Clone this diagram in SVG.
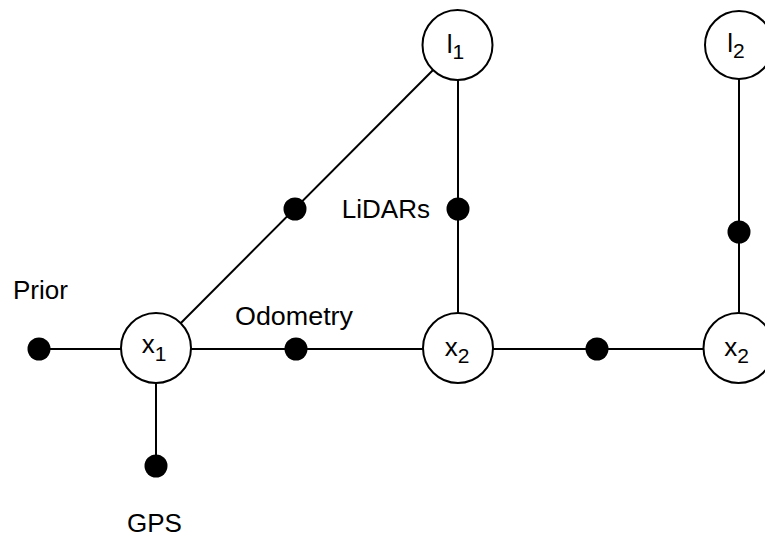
<svg xmlns="http://www.w3.org/2000/svg" width="765" height="537" viewBox="0 0 765 537">
  <style>
    .edge { stroke: #000; stroke-width: 2; fill: none; }
    .var { fill: #fff; stroke: #000; stroke-width: 2; }
    .factor { fill: #000; }
    .lbl { font-family: "Liberation Sans", Arial, sans-serif; font-size: 26px; fill: #000; }
    .nlbl { font-family: "Liberation Sans", Arial, sans-serif; font-size: 26px; fill: #000; text-anchor: middle; }
    .sub { font-size: 21px; }
  </style>
  <rect width="765" height="537" fill="#fff"/>

  <!-- connectors between variables and factors -->
  <g id="connectors">
    <line class="edge" x1="39" y1="349" x2="156" y2="349"/>
    <line class="edge" x1="156" y1="349" x2="156" y2="466"/>
    <line class="edge" x1="156" y1="348" x2="458" y2="45"/>
    <line class="edge" x1="458" y1="45" x2="458" y2="348"/>
    <line class="edge" x1="156" y1="349" x2="738" y2="349"/>
    <line class="edge" x1="739" y1="45" x2="739" y2="348"/>
  </g>

  <!-- factor nodes -->
  <g id="factor-prior"><circle class="factor" cx="39" cy="349" r="11.5"/></g>
  <g id="factor-gps"><circle class="factor" cx="156" cy="466" r="11.5"/></g>
  <g id="factor-odometry-1"><circle class="factor" cx="296" cy="349" r="11.5"/></g>
  <g id="factor-odometry-2"><circle class="factor" cx="597" cy="349" r="11.5"/></g>
  <g id="factor-lidar-x1-l1"><circle class="factor" cx="295" cy="209" r="11.5"/></g>
  <g id="factor-lidar-x2-l1"><circle class="factor" cx="458" cy="209" r="11.5"/></g>
  <g id="factor-lidar-x3-l2"><circle class="factor" cx="739" cy="232" r="11.5"/></g>

  <!-- variable nodes -->
  <g id="var-x1">
    <circle class="var" cx="156" cy="348" r="35"/>
    <text class="nlbl" x="154" y="353">x<tspan class="sub" dy="8">1</tspan></text>
  </g>
  <g id="var-x2">
    <circle class="var" cx="458" cy="348" r="35"/>
    <text class="nlbl" x="457" y="356">x<tspan class="sub" dy="7">2</tspan></text>
  </g>
  <g id="var-x3">
    <circle class="var" cx="738.5" cy="348" r="35"/>
    <text class="nlbl" x="736.5" y="356">x<tspan class="sub" dy="7">2</tspan></text>
  </g>
  <g id="var-l1">
    <circle class="var" cx="457.5" cy="45" r="35"/>
    <text class="nlbl" x="455.5" y="53">l<tspan class="sub" dy="6">1</tspan></text>
  </g>
  <g id="var-l2">
    <circle class="var" cx="739" cy="45" r="34"/>
    <text class="nlbl" x="736" y="52">l<tspan class="sub" dy="6">2</tspan></text>
  </g>

  <!-- factor labels -->
  <g id="labels">
    <text class="lbl" x="13" y="299">Prior</text>
    <text class="lbl" x="235" y="325" textLength="118" lengthAdjust="spacingAndGlyphs">Odometry</text>
    <text class="lbl" x="430" y="218" text-anchor="end" font-size="25">LiDARs</text>
    <text class="lbl" x="127" y="532">GPS</text>
  </g>
</svg>
